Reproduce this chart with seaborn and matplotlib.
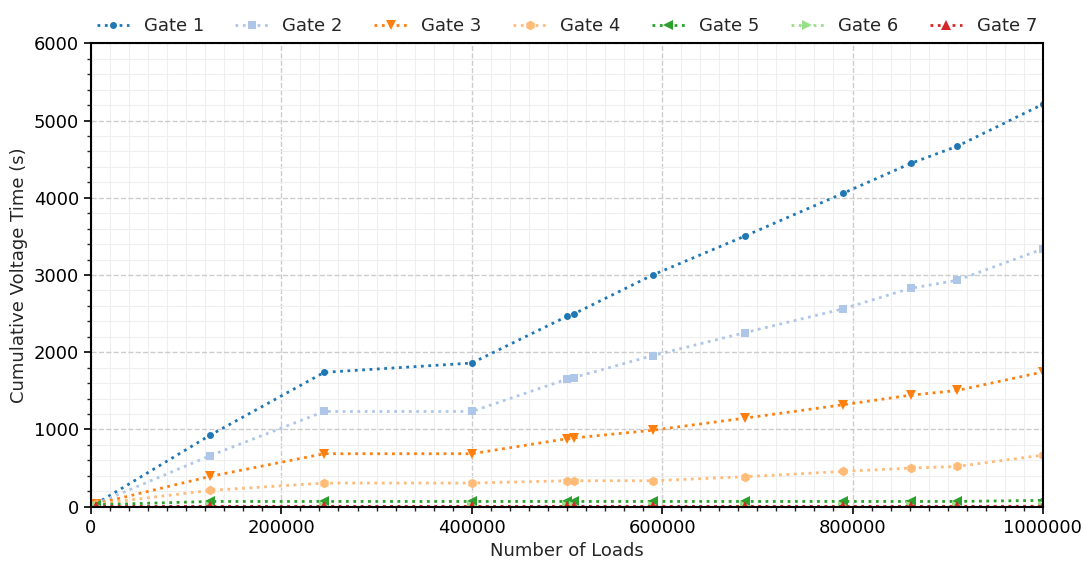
import matplotlib
matplotlib.use("Agg")
import matplotlib.pyplot as plt
from matplotlib.ticker import MultipleLocator, ScalarFormatter
import seaborn as sns
import pandas as pd

# Load counts at which the cumulative voltage time was sampled
loads = [5000, 125000, 245000, 400000, 500000, 507000, 590000,
         687000, 790000, 861000, 910000, 1000000]

gate1 = [35, 925, 1740, 1860, 2465, 2495, 3000, 3505, 4058, 4445, 4668, 5212]
gate2 = [35, 660, 1233, 1233, 1652, 1672, 1957, 2254, 2562, 2828, 2932, 3338]
gate3 = [35, 392, 686, 686, 880, 890, 990, 1147, 1320, 1444, 1505, 1745]
gate4 = [35, 211, 306, 306, 336, 336, 336, 388, 457, 500, 521, 668]
gate5 = [25, 68, 68, 68, 68, 68, 68, 68, 68, 68, 68, 82]
gate6 = [4, 5, 5, 5, 5, 5, 5, 5, 5, 5, 5, 6]
gate7 = [3, 4, 4, 4, 4, 4, 4, 4, 4, 4, 4, 5]

gate_names = ["Gate 1", "Gate 2", "Gate 3", "Gate 4", "Gate 5", "Gate 6", "Gate 7"]
series = [gate1, gate2, gate3, gate4, gate5, gate6, gate7]

colors = ["#1f77b4", "#aec7e8", "#ff7f0e", "#ffbb78", "#2ca02c", "#98df8a", "#d62728"]
markers = ["o", "s", "v", "h", "<", ">", "^"]
msizes = [5, 5.5, 7, 7, 7, 7, 7]

sns.set_style("white")
plt.rcParams["font.family"] = ["DejaVu Sans"]

fig, ax = plt.subplots(figsize=(10.83, 5.63), dpi=100)
fig.subplots_adjust(left=0.084, right=0.963, top=0.923, bottom=0.1)

for name, vals, c, m, ms in zip(gate_names, series, colors, markers, msizes):
    df = pd.DataFrame({"loads": loads, "time": vals})
    sns.lineplot(data=df, x="loads", y="time", ax=ax, color=c, marker=m,
                 markersize=ms, markeredgewidth=0, linestyle=":", linewidth=2,
                 label=name)

ax.set_xlim(0, 1000000)
ax.set_ylim(0, 6000)
ax.xaxis.set_major_locator(MultipleLocator(200000))
ax.xaxis.set_minor_locator(MultipleLocator(20000))
ax.yaxis.set_major_locator(MultipleLocator(1000))
ax.yaxis.set_minor_locator(MultipleLocator(200))
fmt = ScalarFormatter(useOffset=False)
fmt.set_scientific(False)
ax.xaxis.set_major_formatter(fmt)

ax.grid(which="major", linestyle="--", color="#cccccc", linewidth=1)
ax.grid(which="minor", linestyle="-", color="#efefef", linewidth=0.8)
ax.set_axisbelow(True)

ax.tick_params(which="major", direction="out", length=5, width=1.2,
               labelsize=13, colors="black", bottom=True, left=True)
ax.tick_params(which="minor", direction="out", length=3, width=1,
               bottom=True, left=True)

for sp in ax.spines.values():
    sp.set_visible(True)
    sp.set_color("black")
    sp.set_linewidth(1.5)

ax.set_xlabel("Number of Loads", fontsize=13)
ax.set_ylabel("Cumulative Voltage Time (s)", fontsize=13)

ax.legend(loc="lower center", bbox_to_anchor=(0.5, 0.995), ncol=7,
          frameon=False, fontsize=13, handlelength=1.8, handletextpad=0.8,
          columnspacing=1.75, borderaxespad=0.2)

fig.savefig("out.png", dpi=100)
